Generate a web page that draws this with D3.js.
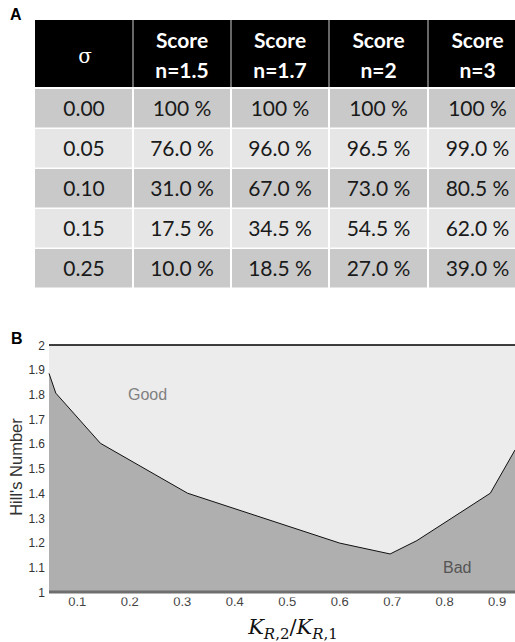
<!DOCTYPE html>
<html>
<head>
<meta charset="utf-8">
<script src="https://cdn.jsdelivr.net/npm/d3@7"></script>
<style>
  html, body { margin: 0; padding: 0; background: #fff; }
  svg { display: block; }
</style>
</head>
<body>
<svg id="fig" width="515" height="642"></svg>
<script>
// ---- Panel A: score table ----
const sigmas = ["0.00", "0.05", "0.10", "0.15", "0.25"];
const hillLevels = ["1.5", "1.7", "2", "3"];
const scoreN15 = ["100 %", "76.0 %", "31.0 %", "17.5 %", "10.0 %"];
const scoreN17 = ["100 %", "96.0 %", "67.0 %", "34.5 %", "18.5 %"];
const scoreN2  = ["100 %", "96.5 %", "73.0 %", "54.5 %", "27.0 %"];
const scoreN3  = ["100 %", "99.0 %", "80.5 %", "62.0 %", "39.0 %"];

// ---- Panel B: boundary between good and bad Hill's numbers ----
const ratio   = [0.047, 0.060, 0.145, 0.311, 0.601, 0.697, 0.748, 0.888, 0.935];
const hillMin = [1.885, 1.805, 1.602, 1.400, 1.198, 1.154, 1.208, 1.400, 1.575];
const yTicks = [1, 1.1, 1.2, 1.3, 1.4, 1.5, 1.6, 1.7, 1.8, 1.9, 2];
const xTicks = [0.1, 0.2, 0.3, 0.4, 0.5, 0.6, 0.7, 0.8, 0.9];

const svg = d3.select("#fig");

// ================= Table =================
const scoreCols = [scoreN15, scoreN17, scoreN2, scoreN3];
const colEdges = [35, 133, 231, 329, 428, 527];
const headTop = 20, headBottom = 87, rowH = 40, firstRow = 89;
const colX = d3.scaleOrdinal().domain(d3.range(5)).range(colEdges.slice(0, 5));
const colW = i => colEdges[i + 1] - colEdges[i];

svg.append("text").attr("x", 10).attr("y", 20)
  .attr("font-family", "Liberation Sans, Arial, sans-serif")
  .attr("font-weight", "bold").attr("font-size", 16).attr("fill", "#000").text("A");

const table = svg.append("g").attr("font-family", "Lato, 'Open Sans', sans-serif");

// header
table.append("rect").attr("x", colEdges[0]).attr("y", headTop)
  .attr("width", colEdges[5] - colEdges[0]).attr("height", headBottom - headTop).attr("fill", "#000");
table.selectAll("line.hsep").data(colEdges.slice(1, 5)).join("line")
  .attr("class", "hsep").attr("x1", d => d).attr("x2", d => d)
  .attr("y1", headTop).attr("y2", headBottom)
  .attr("stroke", "#8a8a8a").attr("stroke-width", 1.5);

table.append("text").attr("x", (colEdges[0] + colEdges[1]) / 2 + 1).attr("y", 63)
  .attr("text-anchor", "middle").attr("fill", "#fff")
  .attr("font-family", "'DejaVu Serif', serif").attr("font-size", 20).text("σ");

hillLevels.forEach((n, i) => {
  const cx = colX(i + 1) + colW(i + 1) / 2;
  table.append("text").attr("x", cx).attr("y", 48).attr("text-anchor", "middle")
    .attr("fill", "#fff").attr("font-weight", "bold").attr("font-size", 21).text("Score");
  table.append("text").attr("x", cx).attr("y", 78).attr("text-anchor", "middle")
    .attr("fill", "#fff").attr("font-weight", "bold").attr("font-size", 21).text("n=" + n);
});

// body rows
const rows = table.selectAll("g.row").data(sigmas).join("g")
  .attr("class", "row")
  .attr("transform", (d, r) => `translate(0,${firstRow + r * rowH})`);

rows.each(function (s, r) {
  const g = d3.select(this);
  const cells = [s].concat(scoreCols.map(c => c[r]));
  cells.forEach((txt, i) => {
    g.append("rect").attr("x", colX(i) + (i ? 1 : 0)).attr("y", 0)
      .attr("width", colW(i) - (i ? 1 : 0) - 1).attr("height", rowH - 1.5)
      .attr("fill", r % 2 === 0 ? "#c9c9c9" : "#e6e6e6");
    g.append("text").attr("x", colX(i) + colW(i) / 2).attr("y", 27)
      .attr("text-anchor", "middle").attr("fill", "#1a1a1a")
      .attr("font-size", 21).text(txt);
  });
});

// ================= Chart =================
svg.append("text").attr("x", 11).attr("y", 344)
  .attr("font-family", "Liberation Sans, Arial, sans-serif")
  .attr("font-weight", "bold").attr("font-size", 16).attr("fill", "#000").text("B");

const plotL = 49, plotR = 515, plotT = 345, plotB = 592;
const x = d3.scaleLinear().domain([0.047, 0.935]).range([plotL, plotR]);
const y = d3.scaleLinear().domain([1, 2]).range([plotB, plotT]);

const pts = ratio.map((r, i) => [r, hillMin[i]]);

// region above the boundary ("Good")
svg.append("rect").attr("x", plotL).attr("y", plotT)
  .attr("width", plotR - plotL).attr("height", plotB - plotT).attr("fill", "#ececec");

// region below the boundary ("Bad")
svg.append("path").datum(pts)
  .attr("d", d3.area().x(d => x(d[0])).y0(y(1)).y1(d => y(d[1])))
  .attr("fill", "#afafaf");

svg.append("path").datum(pts)
  .attr("d", d3.line().x(d => x(d[0])).y(d => y(d[1])))
  .attr("fill", "none").attr("stroke", "#111").attr("stroke-width", 1);

// top border
svg.append("line").attr("x1", plotL).attr("x2", plotR).attr("y1", plotT).attr("y2", plotT)
  .attr("stroke", "#000").attr("stroke-width", 1.5);

// y axis labels
const yAxis = svg.append("g").attr("transform", `translate(${plotL - 2},0)`)
  .call(d3.axisLeft(y).tickValues(yTicks).tickSize(0)
    .tickFormat(d => (d === 1 || d === 2) ? String(d) : d.toFixed(1)));
yAxis.select(".domain").remove();
yAxis.selectAll("text").attr("font-family", "Liberation Sans, Arial, sans-serif")
  .attr("font-size", 13).attr("fill", "#333").attr("dx", 0)
  .attr("transform", "scale(0.92,1)").attr("x", -2 / 0.92);

// x axis labels, clipped just under the axis rule
svg.append("defs").append("clipPath").attr("id", "xclip")
  .append("rect").attr("x", 0).attr("y", 597.5).attr("width", 515).attr("height", 30);
const xAxis = svg.append("g").attr("clip-path", "url(#xclip)")
  .append("g").attr("transform", `translate(0,${plotB})`)
  .call(d3.axisBottom(x).tickValues(xTicks).tickSize(0).tickFormat(d3.format(".1f")));
xAxis.select(".domain").remove();
xAxis.selectAll("text").attr("font-family", "Liberation Sans, Arial, sans-serif")
  .attr("font-size", 13).attr("fill", "#444").attr("dy", "0.85em");

// bottom rule
svg.append("line").attr("x1", plotL).attr("x2", plotR).attr("y1", plotB).attr("y2", plotB)
  .attr("stroke", "#6e6e6e").attr("stroke-width", 3);

// y title
svg.append("text").attr("transform", "translate(22,467) rotate(-90)")
  .attr("text-anchor", "middle").attr("font-family", "Liberation Sans, Arial, sans-serif")
  .attr("font-size", 16.5).attr("fill", "#333").text("Hill's Number");

// region labels
svg.append("text").attr("x", 128).attr("y", 400)
  .attr("font-family", "Liberation Sans, Arial, sans-serif")
  .attr("font-size", 16).attr("fill", "#808080").text("Good");
svg.append("text").attr("x", 443).attr("y", 573)
  .attr("font-family", "Liberation Sans, Arial, sans-serif")
  .attr("font-size", 16).attr("fill", "#555").text("Bad");

// x title: K_{R,2}/K_{R,1}
const xt = svg.append("text").attr("x", 293).attr("y", 634).attr("text-anchor", "middle")
  .attr("font-family", "'DejaVu Serif', 'Liberation Serif', serif")
  .attr("font-size", 21).attr("fill", "#111");
xt.append("tspan").attr("font-style", "italic").text("K");
xt.append("tspan").attr("dy", 5).attr("font-size", 15).attr("font-style", "italic").text("R");
xt.append("tspan").attr("font-size", 15).text(",2");
xt.append("tspan").attr("dy", -5).text("/");
xt.append("tspan").attr("font-style", "italic").text("K");
xt.append("tspan").attr("dy", 5).attr("font-size", 15).attr("font-style", "italic").text("R");
xt.append("tspan").attr("font-size", 15).text(",1");
</script>
</body>
</html>
